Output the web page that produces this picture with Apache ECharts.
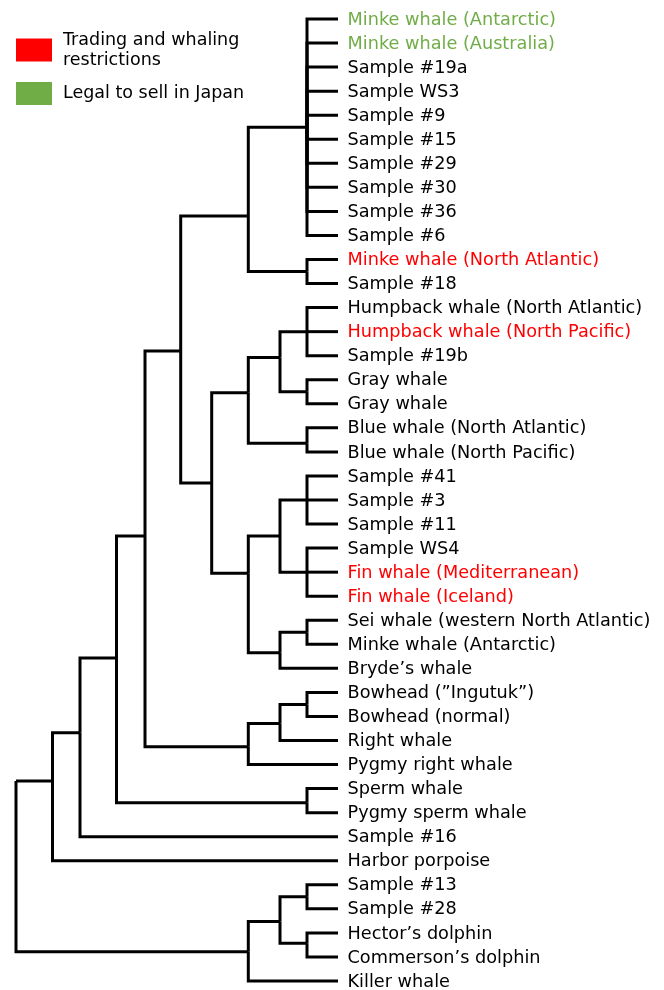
<!DOCTYPE html>
<html>
<head>
<meta charset="utf-8">
<script src="https://cdn.jsdelivr.net/npm/echarts/dist/echarts.min.js"></script>
<style>
  html, body { margin: 0; padding: 0; background: #fff; }
  #main { width: 664px; height: 990px; }
</style>
</head>
<body>
<div id="main"></div>
<script>
// leaves, top to bottom
const leafNames = [
  'Minke whale (Antarctic)', 'Minke whale (Australia)', 'Sample #19a', 'Sample WS3',
  'Sample #9', 'Sample #15', 'Sample #29', 'Sample #30', 'Sample #36', 'Sample #6',
  'Minke whale (North Atlantic)', 'Sample #18',
  'Humpback whale (North Atlantic)', 'Humpback whale (North Pacific)', 'Sample #19b',
  'Gray whale', 'Gray whale', 'Blue whale (North Atlantic)', 'Blue whale (North Pacific)',
  'Sample #41', 'Sample #3', 'Sample #11', 'Sample WS4',
  'Fin whale (Mediterranean)', 'Fin whale (Iceland)',
  'Sei whale (western North Atlantic)', 'Minke whale (Antarctic)', 'Bryde’s whale',
  'Bowhead (”Ingutuk”)', 'Bowhead (normal)', 'Right whale', 'Pygmy right whale',
  'Sperm whale', 'Pygmy sperm whale', 'Sample #16', 'Harbor porpoise',
  'Sample #13', 'Sample #28', 'Hector’s dolphin', 'Commerson’s dolphin', 'Killer whale'
]
// 0 = none, 1 = trading and whaling restrictions, 2 = legal to sell in Japan
const leafStatus = [
  2, 2, 0, 0, 0, 0, 0, 0, 0, 0,
  1, 0,
  0, 1, 0, 0, 0, 0, 0,
  0, 0, 0, 0, 1, 1,
  0, 0, 0, 0, 0, 0, 0, 0, 0, 0, 0,
  0, 0, 0, 0, 0
]
const leafParents = [
  'G', 'G', 'G', 'G', 'G', 'G', 'G', 'G', 'G', 'G',
  'H', 'H',
  'L', 'L', 'L', 'M', 'M', 'N', 'N',
  'Z1', 'Z1', 'Z1', 'Z2', 'Z2', 'Z2',
  'SC', 'SC', 'SB', 'R', 'R', 'Q', 'P', 'S', 'S', 'B', 'A',
  'V', 'V', 'W', 'W', 'T'
]
const leafDist = 322

// internal nodes: parent, distance from root, row where the node sits
const nodeIds =     ['root', 'A', 'B', 'C', 'D', 'E', 'F', 'G', 'H', 'I', 'J', 'K', 'L', 'M', 'N', 'X', 'Y', 'Z1', 'Z2', 'SB', 'SC', 'P', 'Q', 'R', 'S', 'T', 'U', 'V', 'W']
const nodeParents = [null, 'root', 'A', 'B', 'C', 'D', 'E', 'F', 'F', 'E', 'I', 'J', 'K', 'K', 'J', 'I', 'X', 'Y', 'Y', 'X', 'SB', 'D', 'P', 'Q', 'C', 'root', 'T', 'U', 'U']
const nodeDist =    [0, 36.5, 64, 100.5, 129, 164.7, 232.3, 291, 291, 195.7, 232.3, 264, 291, 291, 291, 232.3, 264, 291, 291, 264, 291, 232.3, 264, 291, 291, 232.3, 264, 291, 291]
const nodeRow =     [31.68, 31.68, 29.68, 26.57, 21.5, 13.8, 8.19, 4.5, 10.5, 19.29, 15.54, 14.08, 13, 15.5, 17.64, 23.05, 21.5, 20, 23, 26.35, 25.5, 30.26, 29.29, 28.5, 32.59, 38.78, 37.53, 36.5, 38.43]

const legendNames = ['Trading and whaling restrictions', 'Legal to sell in Japan']
const statusColors = ['#000000', '#ff0000', '#70ad47']

const pos = {}
nodeIds.forEach((id, i) => { pos[id] = [nodeDist[i], nodeRow[i]] })

// each edge: [parent x, parent row, child x, child row]
const edges = []
nodeIds.forEach((id, i) => {
  if (nodeParents[i]) {
    const p = pos[nodeParents[i]]
    edges.push([p[0], p[1], nodeDist[i], nodeRow[i]])
  }
})
leafNames.forEach((name, i) => {
  const p = pos[leafParents[i]]
  edges.push([p[0], p[1], leafDist, i])
})

const leafData = leafNames.map((name, i) => ({
  name: name,
  value: [leafDist, i],
  label: { color: statusColors[leafStatus[i]] }
}))

const font = "'DejaVu Sans', Verdana, sans-serif"
const chart = echarts.init(document.getElementById('main'))
chart.setOption({
  animation: false,
  backgroundColor: '#fff',
  grid: { left: 16, top: 19, width: 322, height: 962 },
  xAxis: { type: 'value', min: 0, max: leafDist, show: false },
  yAxis: { type: 'value', min: 0, max: leafNames.length - 1, inverse: true, show: false },
  legend: {
    data: legendNames,
    orient: 'vertical',
    left: 16,
    top: 30,
    padding: 0,
    itemGap: 12,
    itemWidth: 36,
    itemHeight: 23,
    icon: 'rect',
    selectedMode: false,
    formatter: (name) => name === legendNames[0] ? 'Trading and whaling\nrestrictions' : name,
    textStyle: { fontFamily: font, fontSize: 17.5, color: '#000', lineHeight: 20, padding: [0, 0, 0, 6] }
  },
  series: [
    {
      type: 'custom',
      data: edges,
      encode: { x: [0, 2], y: [1, 3] },
      renderItem: (params, api) => {
        const a = api.coord([api.value(0), api.value(1)])
        const b = api.coord([api.value(2), api.value(3)])
        return {
          type: 'polyline',
          shape: { points: [a, [a[0], b[1]], b] },
          style: { stroke: '#000', lineWidth: 3, fill: null, lineJoin: 'miter' }
        }
      }
    },
    {
      type: 'scatter',
      data: leafData,
      symbolSize: 1,
      itemStyle: { color: 'rgba(0,0,0,0)', opacity: 1 },
      label: {
        show: true,
        position: 'right',
        distance: 9,
        offset: [0, 1],
        formatter: '{b}',
        fontFamily: font,
        fontSize: 17.7
      }
    },
    { type: 'scatter', name: legendNames[0], data: [], itemStyle: { color: statusColors[1], opacity: 1 } },
    { type: 'scatter', name: legendNames[1], data: [], itemStyle: { color: statusColors[2], opacity: 1 } }
  ]
})
</script>
</body>
</html>
